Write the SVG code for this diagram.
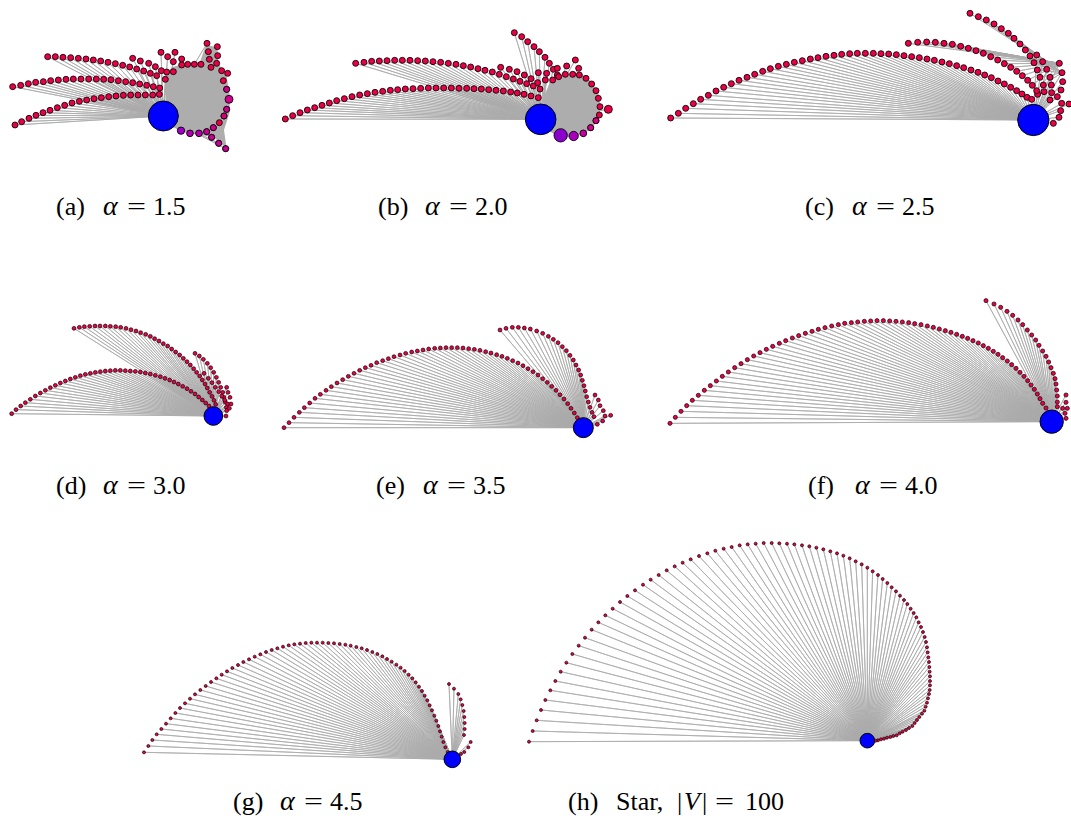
<svg xmlns="http://www.w3.org/2000/svg" width="1071" height="823" viewBox="0 0 1071 823">
<style>
.lab text{font-family:"Liberation Serif","DejaVu Serif",serif;font-size:26px;fill:#000}
.lab .it{font-style:italic}
.lab .al{font-style:italic;font-size:28px}
.ray{fill:none;stroke:#ababab;stroke-width:2.4}
.dt{fill:none;stroke:none}
.hub{fill:#0000ff;stroke:#000;stroke-width:3}
.pk{fill:#eb0046;stroke:#000}
.sp{stroke:#000;stroke-width:2.5}
.blob{fill:#adadad}
.L{marker-start:url(#mL);marker-mid:url(#mL);marker-end:url(#mL)}
.M{marker-start:url(#mM);marker-mid:url(#mM);marker-end:url(#mM)}
.F{marker-start:url(#mF);marker-mid:url(#mF);marker-end:url(#mF)}
.S{marker-start:url(#mS);marker-mid:url(#mS);marker-end:url(#mS)}
</style>
<defs>
<marker id="mL" markerUnits="userSpaceOnUse" markerWidth="1" markerHeight="1" overflow="visible"><circle r="9" class="pk" stroke-width="2.5"/></marker>
<marker id="mM" markerUnits="userSpaceOnUse" markerWidth="1" markerHeight="1" overflow="visible"><circle r="5.8" class="pk" stroke-width="2"/></marker>
<marker id="mF" markerUnits="userSpaceOnUse" markerWidth="1" markerHeight="1" overflow="visible"><circle r="6.2" class="pk" stroke-width="2"/></marker>
<marker id="mS" markerUnits="userSpaceOnUse" markerWidth="1" markerHeight="1" overflow="visible"><circle r="4.5" class="pk" stroke-width="2"/></marker>
<path id="ra" d="M490 258L143 80ZL166 80ZL189 82ZL212 83ZL235 85ZL258 87ZL280 90ZL302 93ZL324 97ZL346 101ZL368 106ZL389 111ZL410 117ZL431 123ZL451 130ZL470 137ZL398 85ZL421 93ZL446 100ZL466 110ZL484 122ZL38 170ZL62 166ZL85 161ZL107 157ZL130 155ZL152 152ZL175 150ZL198 148ZL220 147ZL243 147ZL266 147ZL289 147ZL311 148ZL333 149ZL355 152ZL377 155ZL398 158ZL419 162ZL440 166ZL460 170ZL479 174ZL45 285ZL65 275ZL87 265ZL108 256ZL129 248ZL150 241ZL172 233ZL194 226ZL216 219ZL238 214ZL260 210ZL282 206ZL304 203ZL326 200ZL348 198ZL370 196ZL392 195ZL414 195ZL436 195ZL458 195ZL478 193ZL496 148ZL500 126ZL520 125ZL483 67ZL503 80ZL525 67ZL520 95ZL545 87ZL545 105ZL563 103ZL583 103ZL603 103ZL621 40ZL652 50ZL625 65ZL653 77ZL628 88ZL650 100ZL633 112ZL665 122ZL683 130ZL670 152ZL680 178ZL687 208ZL680 238ZL672 258ZL658 278ZL640 293ZL620 305ZL597 310ZL570 310ZL543 302ZL635 322ZL656 340ZL677 356Z"/>
<path id="rb" d="M812 268L46 267ZL68 257ZL90 248ZL112 240ZL134 233ZL156 226ZL178 219ZL200 212ZL223 206ZL246 200ZL269 195ZL292 191ZL315 187ZL338 184ZL361 181ZL383 179ZL406 177ZL429 176ZL452 175ZL475 174ZL498 174ZL521 174ZL544 174ZL567 175ZL590 175ZL612 176ZL634 177ZL656 179ZL678 181ZL700 183ZL722 186ZL742 189ZL762 193ZL783 198ZL805 203ZL257 100ZL282 97ZL305 94ZL328 93ZL351 92ZL374 91ZL397 91ZL420 91ZL443 92ZL466 93ZL489 95ZL512 97ZL535 100ZL558 103ZL580 107ZL602 111ZL624 116ZL645 121ZL667 126ZL688 133ZL709 140ZL730 147ZL750 154ZL770 161ZL790 168ZL810 177ZL692 112ZL718 118ZL741 125ZL763 135ZL783 146ZL803 158ZL733 8ZL755 20ZL773 35ZL792 50ZL808 65ZL825 82ZL838 100ZL850 118ZL862 135ZL848 150ZL866 140ZL886 133ZL908 133ZL928 135ZL948 145ZL965 162ZL978 182ZL985 205ZL990 230ZL988 255ZL978 272ZL962 293ZL805 128ZL830 130ZL826 150ZL862 115ZL890 108ZL916 90ZL926 115ZL1015 238ZL940 310ZL911 318ZL872 316Z"/>
<path id="rc" d="M1150 360L62 354ZL85 340ZL107 325ZL130 311ZL152 298ZL175 286ZL198 273ZL221 262ZL244 251ZL267 241ZL291 232ZL314 223ZL338 214ZL361 206ZL385 199ZL409 193ZL433 187ZL457 182ZL481 177ZL504 173ZL528 169ZL552 166ZL575 163ZL599 161ZL622 160ZL646 160ZL670 160ZL693 161ZL716 162ZL739 164ZL762 167ZL785 170ZL808 173ZL831 177ZL853 181ZL876 186ZL898 191ZL920 197ZL941 203ZL963 210ZL984 217ZL1004 225ZL1024 233ZL1044 243ZL1063 252ZL1082 262ZL1100 272ZL1116 282ZL1131 292ZL1145 298ZL1160 165ZL1178 185ZL1190 208ZL1200 232ZL1204 255ZL1205 278ZL1200 300ZL1228 190ZL1236 218ZL1238 245ZL1233 270ZL1222 290ZL1235 310ZL1257 312ZL1232 332ZL1227 352ZL1210 370ZL1182 275ZL1163 283Z"/>
<path id="rc2" d="M1228 190L775 130ZL803 127ZL830 126ZL856 127ZL882 130ZL907 133ZL932 139ZL955 145ZL978 152ZL1000 160ZL1022 170ZL1043 180ZL1063 191ZL1082 202ZL1100 214ZL1117 227ZL1133 241ZL1147 256ZL1160 272ZM1236 218L960 40ZL985 50ZL1009 60ZL1032 72ZL1054 86ZL1075 100ZL1092 115ZL1110 132ZL1126 150ZL1140 168ZL1152 188ZL1162 210ZL1170 232ZL1180 255Z"/>
<path id="rd" d="M640 318L35 311ZL48 299ZL62 288ZL76 278ZL91 268ZL106 258ZL121 249ZL136 241ZL151 233ZL166 226ZL181 219ZL196 213ZL211 207ZL226 202ZL241 197ZL256 193ZL271 190ZL286 187ZL301 185ZL316 183ZL331 182ZL346 181ZL361 181ZL376 182ZL391 183ZL406 184ZL421 186ZL436 189ZL451 192ZL466 196ZL481 200ZL495 205ZL509 210ZL522 216ZL535 222ZL548 229ZL561 236ZL573 244ZL585 252ZL596 261ZL607 270ZL617 279ZL627 288ZL222 55ZL238 52ZL253 50ZL269 49ZL285 48ZL300 48ZL316 48ZL331 49ZL347 50ZL362 52ZL378 55ZL393 59ZL408 63ZL422 68ZL437 73ZL451 79ZL464 86ZL477 93ZL490 101ZL503 108ZL515 117ZL527 126ZL539 135ZL550 145ZL561 155ZL571 165ZL581 176ZL590 187ZL599 198ZL607 210ZL615 222ZL622 234ZL629 247ZL636 259ZL642 271ZL647 283ZL585 130ZL598 138ZL610 148ZL622 160ZL632 173ZL641 187ZL649 202ZL656 217ZL662 232ZL668 247ZL672 262ZL676 277ZL679 292ZL612 190ZL625 205ZL636 218ZL646 232ZL656 245ZL665 258ZL674 270ZL683 282ZL693 282ZL680 232ZL684 247ZL690 262ZL680 302ZL678 318ZL688 295Z"/>
<path id="re" d="M940 353L42 353ZL57 338ZL72 322ZL88 307ZL103 293ZL119 279ZL135 265ZL151 253ZL168 241ZL184 230ZL201 219ZL218 209ZL235 199ZL252 190ZL269 181ZL286 173ZL303 166ZL320 158ZL338 152ZL355 146ZL372 140ZL390 135ZL407 130ZL425 126ZL442 123ZL459 120ZL476 117ZL494 115ZL511 114ZL528 113ZL545 113ZL562 113ZL579 114ZL596 116ZL613 118ZL630 121ZL647 125ZL663 129ZL680 134ZL696 139ZL712 145ZL728 152ZL744 159ZL759 167ZL774 176ZL789 185ZL804 195ZL818 206ZL832 217ZL845 229ZL858 241ZL870 254ZL882 267ZL893 281ZL903 295ZL913 309ZL922 323ZL690 60ZL708 55ZL727 52ZL745 52ZL763 54ZL781 57ZL800 63ZL818 70ZL835 79ZL850 88ZL864 98ZL877 110ZL889 122ZL900 136ZL910 150ZL918 165ZL926 180ZL932 195ZL937 211ZL942 227ZL946 243ZL950 260ZL955 276ZL960 292ZL966 307ZL975 255ZL985 270ZL990 287ZL1000 302ZL1005 318ZL1022 316ZL998 333ZL982 343ZL972 320Z"/>
<path id="rf" d="M1205 395L60 400ZL76 382ZL93 364ZL110 347ZL127 331ZL145 316ZL163 301ZL181 287ZL199 273ZL217 259ZL235 246ZL254 233ZL273 221ZL292 209ZL311 198ZL330 188ZL349 178ZL368 169ZL388 160ZL407 152ZL427 144ZL446 137ZL466 130ZL486 124ZL505 118ZL525 113ZL545 108ZL565 104ZL584 100ZL604 98ZL623 96ZL643 94ZL662 93ZL681 92ZL700 92ZL719 93ZL738 94ZL757 96ZL776 98ZL794 101ZL813 104ZL832 108ZL850 112ZL868 117ZL886 122ZL903 127ZL920 133ZL937 139ZL953 145ZL969 152ZL985 159ZL1000 167ZL1015 175ZL1030 184ZL1044 193ZL1058 203ZL1072 213ZL1085 224ZL1098 235ZL1110 247ZL1122 259ZL1133 272ZL1143 285ZL1153 298ZL1162 312ZL1170 326ZL1178 340ZL1188 354ZL1008 32ZL1032 42ZL1052 52ZL1071 64ZL1088 76ZL1104 90ZL1118 104ZL1132 120ZL1145 135ZL1157 150ZL1167 166ZL1178 183ZL1188 199ZL1196 216ZL1203 233ZL1210 250ZL1215 266ZL1218 282ZL1220 300ZL1222 318ZL1222 336ZL1248 315ZL1248 337ZL1252 355ZL1245 370ZL1248 385ZL1238 355ZL1222 350Z"/>
<path id="rg" d="M967 388L42 367ZL55 348ZL67 330ZL80 313ZL94 297ZL108 281ZL122 265ZL136 249ZL150 234ZL165 220ZL180 206ZL195 193ZL211 180ZL227 168ZL243 156ZL259 145ZL275 134ZL291 124ZL307 114ZL324 105ZL340 96ZL357 88ZL374 80ZL391 73ZL408 66ZL425 60ZL442 55ZL459 50ZL476 46ZL493 43ZL510 41ZL527 39ZL544 38ZL561 38ZL578 38ZL595 39ZL612 40ZL629 42ZL646 44ZL662 47ZL679 51ZL695 55ZL711 60ZL727 66ZL742 72ZL757 79ZL771 87ZL785 95ZL799 104ZL812 113ZL824 123ZL836 134ZL847 145ZL857 157ZL867 170ZL876 183ZL884 197ZL892 211ZL899 226ZL906 241ZL913 257ZL919 272ZL925 288ZL930 304ZL935 320ZL940 336ZL946 352ZL953 366ZL957 162ZL972 176ZL985 192ZL992 208ZL997 225ZL1001 243ZL1003 261ZL1004 279ZL1004 297ZL1002 315ZL1022 336ZL1015 352ZL1003 366ZL993 372Z"/>
<path id="rh" d="M1072 632L57 635ZL68 603ZL80 571ZL93 540ZL106 510ZL121 481ZL136 453ZL152 425ZL169 398ZL187 372ZL206 347ZL225 323ZL245 299ZL265 277ZL286 256ZL308 236ZL330 216ZL352 198ZL375 181ZL399 164ZL422 149ZL446 135ZL470 121ZL494 109ZL518 98ZL542 88ZL567 78ZL592 70ZL616 62ZL641 56ZL665 51ZL689 46ZL713 43ZL737 41ZL761 39ZL785 39ZL808 40ZL831 41ZL853 43ZL876 46ZL898 49ZL919 53ZL940 58ZL961 64ZL981 70ZL1000 77ZL1019 85ZL1037 94ZL1055 103ZL1072 113ZL1088 124ZL1104 135ZL1118 147ZL1132 159ZL1145 172ZL1158 184ZL1170 197ZL1182 210ZL1192 222ZL1202 236ZL1211 249ZL1219 262ZL1226 277ZL1233 291ZL1239 306ZL1244 321ZL1248 336ZL1251 352ZL1253 367ZL1255 382ZL1257 396ZL1258 411ZL1259 425ZL1260 439ZL1260 453ZL1260 466ZL1259 480ZL1257 492ZL1254 505ZL1251 518ZL1247 530ZL1243 542ZL1236 551ZL1228 561ZL1221 570ZL1214 579ZL1207 588ZL1197 594ZL1188 600ZL1178 605ZL1169 610ZL1160 616ZL1150 618ZL1141 621ZL1131 623ZL1122 626ZL1113 628ZL1104 631ZL1097 632Z"/>
</defs>
<rect width="1071" height="823" fill="#fff"/>

<g id="panel-a" transform="translate(0,30) scale(0.333333)">
<g id="edges-a"><use href="#ra" class="ray"/><polygon class="blob" points="495,130 520,110 560,100 600,95 618,45 652,52 655,100 680,140 690,200 688,250 672,300 680,356 640,320 600,315 545,305 500,280"/></g>
<g id="nodes-a"><use href="#ra" class="dt L"/>
<g class="sp"><circle cx="680" cy="178" r="9" fill="#d0008c"/><circle cx="687" cy="208" r="12" fill="#d0008c"/><circle cx="680" cy="238" r="9" fill="#d0008c"/><circle cx="672" cy="258" r="9" fill="#d8007a"/><circle cx="640" cy="293" r="9" fill="#d0008c"/><circle cx="620" cy="305" r="9" fill="#c80096"/><circle cx="635" cy="322" r="9" fill="#c80096"/><circle cx="656" cy="340" r="9" fill="#c80096"/><circle cx="677" cy="356" r="9" fill="#c80096"/><circle cx="597" cy="310" r="10" fill="#b400aa"/><circle cx="570" cy="310" r="10" fill="#b000b0"/><circle cx="543" cy="302" r="11" fill="#a000c4"/></g>
<circle id="hub-a" class="hub" cx="490" cy="258" r="45"/></g>
</g>

<g id="panel-b" transform="translate(270,30) scale(0.333333)">
<g id="edges-b"><use href="#rb" class="ray"/><polygon class="blob" points="820,200 840,160 870,135 930,128 965,155 985,190 992,235 985,270 960,300 915,322 870,320 830,300"/></g>
<g id="nodes-b"><use href="#rb" class="dt L"/>
<g class="sp"><circle cx="1015" cy="238" r="12" fill="#eb0046"/><circle cx="962" cy="293" r="9" fill="#d60092"/><circle cx="978" cy="272" r="9" fill="#dc0080"/><circle cx="940" cy="310" r="10" fill="#c400a2"/><circle cx="911" cy="318" r="14" fill="#a600ba"/><circle cx="872" cy="316" r="20" fill="#8a00cc"/></g>
<circle id="hub-b" class="hub" cx="812" cy="268" r="46"/></g>
</g>

<g id="panel-c" transform="translate(650,0) scale(0.333333)">
<g id="edges-c"><use href="#rc" class="ray"/><use href="#rc2" class="ray"/></g>
<g id="nodes-c"><use href="#rc" class="dt L"/>
<polyline class="dt L" points="775,130 803,127 830,126 856,127 882,130 907,133 932,139 955,145 978,152 1000,160 1022,170 1043,180 1063,191 1082,202 1100,214 1117,227 1133,241 1147,256 1160,272"/>
<polyline class="dt L" points="960,40 985,50 1009,60 1032,72 1054,86 1075,100 1092,115 1110,132 1126,150 1140,168 1152,188 1162,210 1170,232 1180,255"/>
<circle id="hub-c" class="hub" cx="1150" cy="360" r="47"/></g>
</g>

<g id="panel-d" transform="translate(0,310) scale(0.333333)">
<g id="edges-d"><use href="#rd" class="ray"/></g>
<g id="nodes-d"><use href="#rd" class="dt M"/>
<circle id="hub-d" class="hub" cx="640" cy="318" r="28"/></g>
</g>

<g id="panel-e" transform="translate(270,310) scale(0.333333)">
<g id="edges-e"><use href="#re" class="ray"/></g>
<g id="nodes-e"><use href="#re" class="dt M"/>
<circle id="hub-e" class="hub" cx="940" cy="353" r="30"/></g>
</g>

<g id="panel-f" transform="translate(650,290) scale(0.333333)">
<g id="edges-f"><use href="#rf" class="ray"/></g>
<g id="nodes-f"><use href="#rf" class="dt F"/>
<circle id="hub-f" class="hub" cx="1205" cy="395" r="35"/></g>
</g>

<g id="panel-g" transform="translate(130,630) scale(0.333333)">
<g id="edges-g"><use href="#rg" class="ray"/></g>
<g id="nodes-g"><use href="#rg" class="dt S"/>
<circle id="hub-g" class="hub" cx="967" cy="388" r="25"/></g>
</g>

<g id="panel-h" transform="translate(510,530) scale(0.333333)">
<g id="edges-h"><use href="#rh" class="ray"/></g>
<g id="nodes-h"><use href="#rh" class="dt S"/>
<circle id="hub-h" class="hub" cx="1072" cy="632" r="22"/></g>
</g>

<g id="labels" class="lab">
<g id="label-a"><text x="56" y="215">(a)</text><text x="103" y="215" class="al">α</text><text x="127" y="215" textLength="19" lengthAdjust="spacingAndGlyphs">=</text><text x="153" y="215">1.5</text></g>
<g id="label-b"><text x="378" y="215">(b)</text><text x="425" y="215" class="al">α</text><text x="449" y="215" textLength="19" lengthAdjust="spacingAndGlyphs">=</text><text x="475" y="215">2.0</text></g>
<g id="label-c"><text x="805" y="215">(c)</text><text x="852" y="215" class="al">α</text><text x="876" y="215" textLength="19" lengthAdjust="spacingAndGlyphs">=</text><text x="902" y="215">2.5</text></g>
<g id="label-d"><text x="56" y="494">(d)</text><text x="103" y="494" class="al">α</text><text x="127" y="494" textLength="19" lengthAdjust="spacingAndGlyphs">=</text><text x="153" y="494">3.0</text></g>
<g id="label-e"><text x="376" y="494">(e)</text><text x="423" y="494" class="al">α</text><text x="447" y="494" textLength="19" lengthAdjust="spacingAndGlyphs">=</text><text x="473" y="494">3.5</text></g>
<g id="label-f"><text x="808" y="494">(f)</text><text x="855" y="494" class="al">α</text><text x="879" y="494" textLength="19" lengthAdjust="spacingAndGlyphs">=</text><text x="905" y="494">4.0</text></g>
<g id="label-g"><text x="233" y="810">(g)</text><text x="280" y="810" class="al">α</text><text x="304" y="810" textLength="19" lengthAdjust="spacingAndGlyphs">=</text><text x="330" y="810">4.5</text></g>
<g id="label-h"><text x="568" y="810">(h)</text><text x="616" y="810">Star,</text><text x="677" y="810">|</text><text x="684" y="810" class="it">V</text><text x="702" y="810">|</text><text x="715" y="810" textLength="19" lengthAdjust="spacingAndGlyphs">=</text><text x="745" y="810">100</text></g>
</g>
</svg>
